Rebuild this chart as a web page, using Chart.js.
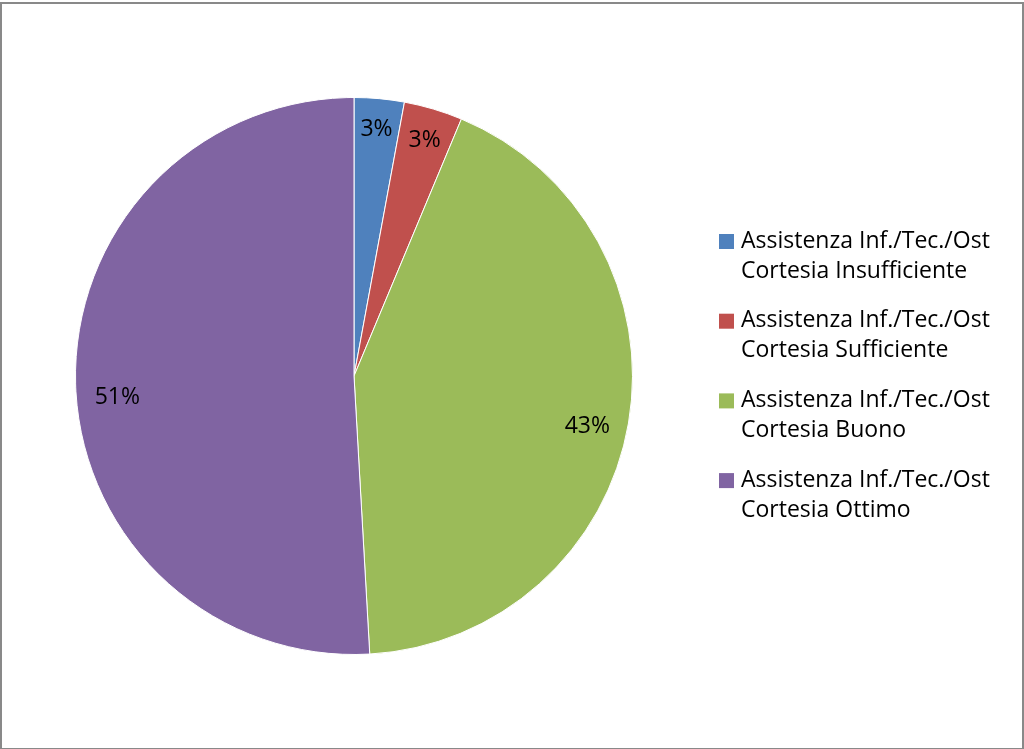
<!DOCTYPE html>
<html>
<head>
<meta charset="utf-8">
<script src="https://cdn.jsdelivr.net/npm/chart.js@4"></script>
<style>
  body { margin: 0; background: #fff; }
  #wrap { position: relative; width: 1024px; height: 749px; }
  #frame { position: absolute; left: 0; top: 2px; width: 1020px; height: 744px; border: 2px solid #898989; }
  canvas { position: absolute; left: 0; top: 0; }
</style>
</head>
<body>
<div id="wrap">
  <div id="frame"></div>
  <canvas id="torta" width="1024" height="749"></canvas>
</div>
<script>
const categorie = [
    ['Assistenza Inf./Tec./Ost', 'Cortesia Insufficiente'],
    ['Assistenza Inf./Tec./Ost', 'Cortesia Sufficiente'],
    ['Assistenza Inf./Tec./Ost', 'Cortesia Buono'],
    ['Assistenza Inf./Tec./Ost', 'Cortesia Ottimo']
];
const valori = [2.9, 3.4, 42.8, 50.9];
const colori = ['#4F81BD', '#C0504D', '#9BBB59', '#8064A2'];

const FONT = '23px "Open Sans", sans-serif';

// etichette percentuali dentro le fette
const etichette = {
    id: 'etichette',
    afterDatasetsDraw(chart) {
        const ctx = chart.ctx;
        const meta = chart.getDatasetMeta(0);
        const tot = valori.reduce((a, b) => a + b, 0);
        const scostY = [0, 2, 2, 15];
        ctx.save();
        ctx.font = FONT;
        ctx.fillStyle = '#000';
        ctx.textAlign = 'center';
        ctx.textBaseline = 'middle';
        meta.data.forEach((arc, i) => {
            const p = arc.getProps(['x', 'y', 'startAngle', 'endAngle', 'outerRadius'], true);
            const mid = (p.startAngle + p.endAngle) / 2;
            const r = p.outerRadius * (i < 2 ? 0.89 : 0.85);
            const x = p.x + Math.cos(mid) * r;
            const y = p.y + Math.sin(mid) * r + scostY[i] + (i == 2 ? 8 : 0);
            ctx.fillText(Math.round(valori[i] / tot * 100) + '%', x, y);
        });
        ctx.restore();
    }
};

// legenda a destra, due righe per voce
const legenda = {
    id: 'legenda',
    afterDraw(chart) {
        const ctx = chart.ctx;
        ctx.save();
        ctx.font = FONT;
        ctx.textBaseline = 'middle';
        categorie.forEach((righe, i) => {
            const y0 = 241 + i * 79.7;
            ctx.fillStyle = colori[i];
            ctx.fillRect(719, y0 - 7, 15, 15);
            ctx.fillStyle = '#000';
            righe.forEach((t, j) => ctx.fillText(t, 741, y0 + j * 30));
        });
        ctx.restore();
    }
};

new Chart(document.getElementById('torta').getContext('2d'), {
    type: 'pie',
    data: {
        labels: categorie.map(r => r.join(' ')),
        datasets: [{
            data: valori,
            backgroundColor: colori,
            borderColor: '#fff',
            borderWidth: 1
        }]
    },
    options: {
        responsive: false,
        animation: false,
        layout: { padding: { left: 75, top: 97, right: 391, bottom: 94 } },
        plugins: {
            legend: { display: false },
            tooltip: { enabled: false }
        }
    },
    plugins: [etichette, legenda]
});
</script>
</body>
</html>
